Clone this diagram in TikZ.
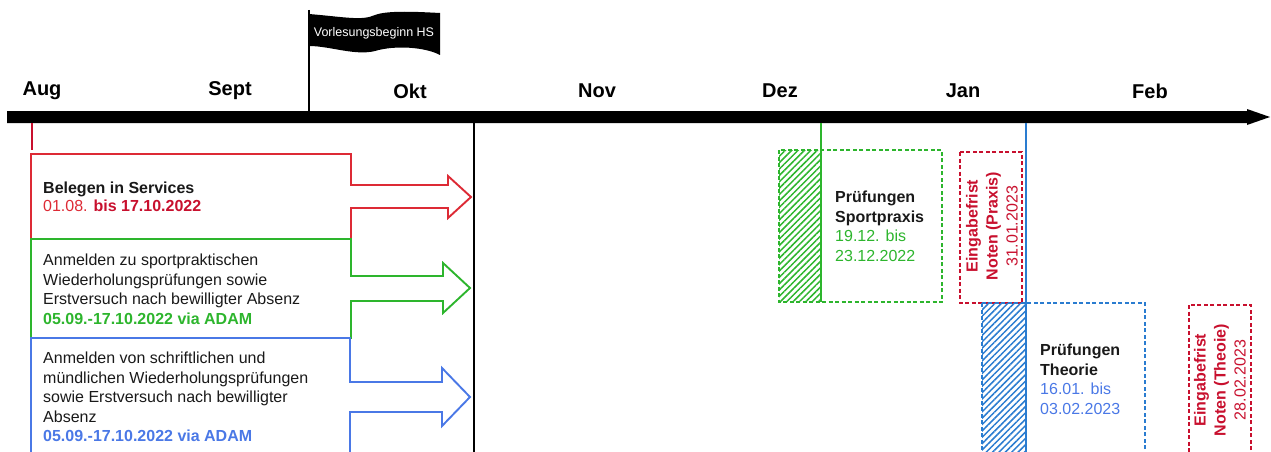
\documentclass[tikz,border=0pt]{standalone}
\usepackage{fontspec}
\setmainfont{Liberation Sans}
\usepackage{xcolor}
\usetikzlibrary{positioning,patterns.meta}
\definecolor{myred}{HTML}{DD2A35}
\definecolor{darkred}{HTML}{C8102E}
\definecolor{mygreen}{HTML}{2DB52D}
\definecolor{myblue}{HTML}{4A78E6}
\definecolor{lineblue}{HTML}{2A7CD0}
\tikzset{
month/.style={font=\fontsize{20}{24}\selectfont\bfseries, inner sep=0pt},
boxtext/.style={anchor=north west, align=left, inner sep=0pt, font=\fontsize{16}{19.5}\selectfont, text=black!90},
frame/.style={line width=1.9pt, line join=miter},
dashframe/.style={line width=1.5pt, dash pattern=on 4pt off 2.5pt},
hatch/.style={pattern={Lines[angle=45,distance=4.5pt,line width=1.5pt]}},
deadline/.style={rotate=90, align=center, inner sep=0pt, text=darkred, font=\fontsize{16}{20}\selectfont},
}

\begin{document}
\begin{tikzpicture}[x=1pt,y=-1pt]
\useasboundingbox (0,0) rectangle (1271,452);
\clip (0,0) rectangle (1271,452);
\fill (7,111) -- (1247,111) -- (1247,109) -- (1270,117) -- (1247,125) -- (1247,123) -- (7,123) -- cycle;
\node[month] (aug) at (42,91) {Aug};
\node[month] (sept) at (230,91) {Sept};
\node[month] (okt) at (410,91) {Okt};
\node[month] (nov) at (597,91) {Nov};
\node[month] (dez) at (780,91) {Dez};
\node[month] (jan) at (963,91) {Jan};
\node[month] (feb) at (1150,91) {Feb};

\draw[line width=1.2pt] (309,10) -- (309,111);
\fill (309,14) .. controls (345,17) and (362,21) .. (375,15) .. controls (388,10) and (420,12) .. (440,13)
  -- (440,55) .. controls (425,47) and (395,45) .. (375,51) .. controls (355,56) and (330,46) .. (309,46) -- cycle;
\node[text=white, inner sep=0pt, font=\fontsize{12.5}{14}\selectfont] (hs) at (374,33) {Vorlesungsbeginn HS};

\coordinate (start) at (32,123);
\draw[darkred, line width=2.2pt] (start) -- ++(0,27);
\draw[line width=2.4pt] (474,123) -- (474,452);

\draw[frame, myred] (31,154) -- (351,154) -- (351,185) -- (448,185) -- (448,176) -- (471,197) -- (448,218) -- (448,208) -- (351,208) -- (351,239) -- (31,239) -- cycle;
\draw[frame, mygreen] (31,239) -- (351,239) -- (351,276) -- (443,276) -- (443,263) -- (470,288) -- (443,313) -- (443,301) -- (351,301) -- (351,338) -- (31,338) -- cycle;
\draw[frame, myblue] (31,338) -- (350,338) -- (350,382) -- (442,382) -- (442,368) -- (470,397) -- (442,426) -- (442,412) -- (350,412) -- (350,470) -- (31,470) -- cycle;

\node[boxtext, font=\fontsize{16}{17.5}\selectfont] (belegen) at (43,182) {\textbf{Belegen in Services}\\{\color{myred}01.08. \textbf{\color{darkred}bis 17.10.2022}}};
\node[boxtext] (praxisanm) at (43,254) {Anmelden zu sportpraktischen\\Wiederholungsprüfungen sowie\\Erstversuch nach bewilligter Absenz\\{\color{mygreen}\bfseries 05.09.-17.10.2022 via ADAM}};
\node[boxtext] (theorieanm) at (43,352) {Anmelden von schriftlichen und\\mündlichen Wiederholungsprüfungen\\sowie Erstversuch nach bewilligter\\Absenz\\{\color{myblue}\bfseries 05.09.-17.10.2022 via ADAM}};

\fill[hatch, pattern color=mygreen] (779,150) rectangle (821,302);
\draw[dashframe, mygreen] (779,150) rectangle (942,302);
\draw[mygreen, line width=2.2pt] (821,123) -- (821,302);
\node[boxtext] (sportpraxis) at (835,191) {\textbf{Prüfungen}\\\textbf{Sportpraxis}\\{\color{mygreen}19.12. bis}\\{\color{mygreen}23.12.2022}};

\draw[dashframe, darkred] (960,152) rectangle (1022,303);
\node[deadline] (fristpraxis) at (992,226) {\textbf{Eingabefrist}\\\textbf{Noten (Praxis)}\\31.01.2023};

\fill[hatch, pattern color=lineblue] (982,303) rectangle (1026,460);
\draw[dashframe, lineblue] (982,303) rectangle (1145,470);
\draw[lineblue, line width=2.2pt] (1026,123) -- (1026,460);
\node[boxtext] (theorie) at (1040,344) {\textbf{Prüfungen}\\\textbf{Theorie}\\{\color{myblue}16.01. bis}\\{\color{myblue}03.02.2023}};

\draw[dashframe, darkred] (1189,305) rectangle (1251,470);
\node[deadline] (fristtheorie) at (1220,380) {\textbf{Eingabefrist}\\\textbf{Noten (Theoie)}\\28.02.2023};
\end{tikzpicture}
\end{document}
